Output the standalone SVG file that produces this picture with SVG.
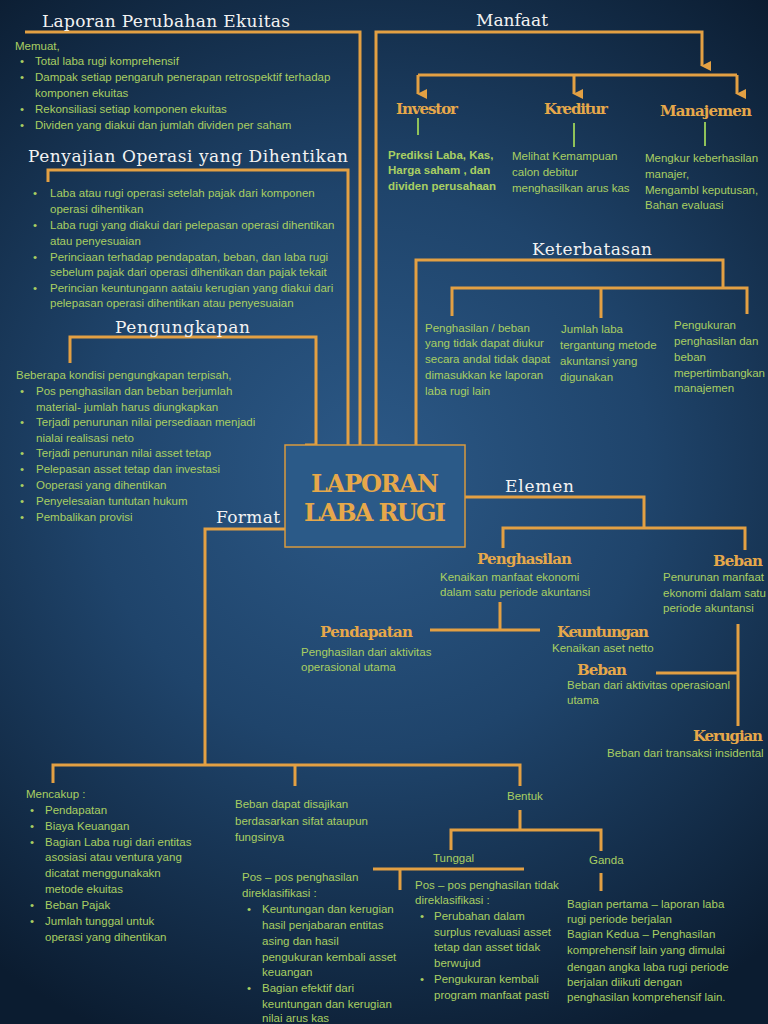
<svg xmlns="http://www.w3.org/2000/svg" width="768" height="1024" viewBox="0 0 768 1024">
<defs>
<radialGradient id="bg" cx="370" cy="470" r="620" gradientUnits="userSpaceOnUse">
<stop offset="0" stop-color="#2c5987"/>
<stop offset="0.45" stop-color="#1f446b"/>
<stop offset="1" stop-color="#0b1c30"/>
</radialGradient>
<marker id="arr" viewBox="0 0 10 10" refX="5" refY="9" markerWidth="10" markerHeight="10" markerUnits="userSpaceOnUse" orient="auto-start-reverse">
<path d="M0,0 L10,0 L5,10 Z" fill="#e3a043"/>
</marker>
<style>
.ln{fill:none;stroke:#e3a043;stroke-width:3}
.gl{fill:none;stroke:#8fc25a;stroke-width:2}
.ttl{font-family:"DejaVu Serif",serif;font-size:17px;fill:#f2f2f2}
.lbl{font-family:"DejaVu Serif",serif;font-size:15px;font-weight:bold;fill:#e6a84a}
.t{font-family:"Liberation Sans",Arial,sans-serif;font-size:11.5px;fill:#a9cf62}
.tb{font-family:"Liberation Sans",Arial,sans-serif;font-size:11.5px;fill:#a9cf62;font-weight:bold}
.big{font-family:"DejaVu Serif",serif;font-size:24px;font-weight:bold;fill:#e6a84a}
</style>
</defs>
<rect width="768" height="1024" fill="url(#bg)"/>

<g id="connectors">
<polyline class="ln" points="25,32 360,32 360,445"/>
<polyline class="ln" points="48,182 48,170 348,170 348,445"/>
<polyline class="ln" points="70,363 70,337 316,337 316,445 305,445"/>
<polyline class="ln" points="376,445 376,32 702,32 702,66" marker-end="url(#arr)"/>
<polyline class="ln" points="418,75 737,75"/>
<line class="ln" x1="418" y1="75" x2="418" y2="94" marker-end="url(#arr)"/>
<line class="ln" x1="574" y1="75" x2="574" y2="94" marker-end="url(#arr)"/>
<line class="ln" x1="737" y1="75" x2="737" y2="94" marker-end="url(#arr)"/>
<line class="gl" x1="418" y1="118" x2="418" y2="135"/>
<line class="gl" x1="574" y1="123" x2="574" y2="147"/>
<line class="gl" x1="705" y1="122" x2="705" y2="146"/>
<polyline class="ln" points="416,445 416,260 723,260 723,288"/>
<polyline class="ln" points="452,316 452,288 747,288 747,314"/>
<line class="ln" x1="601" y1="288" x2="601" y2="318"/>
<polyline class="ln" points="465,497 644,497 644,528"/>
<polyline class="ln" points="503,548 503,528 745,528 745,550"/>
<line class="ln" x1="500" y1="602" x2="500" y2="630"/>
<line class="ln" x1="430" y1="630" x2="540" y2="630"/>
<line class="ln" x1="738" y1="624" x2="738" y2="726"/>
<line class="ln" x1="656" y1="673" x2="738" y2="673"/>
<polyline class="ln" points="285,529 205,529 205,765"/>
<polyline class="ln" points="53,783 53,765 520,765 520,786"/>
<line class="ln" x1="295" y1="765" x2="295" y2="786"/>
<line class="ln" x1="520" y1="810" x2="520" y2="830"/>
<polyline class="ln" points="451,850 451,830 601,830 601,851"/>
<line class="ln" x1="601" y1="873" x2="601" y2="891"/>
<line class="ln" x1="373" y1="869" x2="524" y2="869"/>
<line class="ln" x1="400" y1="869" x2="400" y2="890"/>
</g>

<g id="center">
<rect x="285" y="445" width="180" height="102" fill="#2b5a88" stroke="#d99a3e" stroke-width="1.5"/>
<text class="big" x="375" y="492" text-anchor="middle" textLength="128">LAPORAN</text>
<text class="big" x="375" y="521" text-anchor="middle" textLength="142">LABA RUGI</text>
</g>

<g id="ekuitas">
<text class="ttl" x="42" y="27" textLength="248">Laporan Perubahan Ekuitas</text>
<text class="t" x="15" y="50">Memuat,</text>
<text class="t" x="20" y="65">•</text><text class="t" x="35" y="65">Total laba rugi komprehensif</text>
<text class="t" x="20" y="81">•</text><text class="t" x="35" y="81">Dampak setiap pengaruh penerapan retrospektif terhadap</text>
<text class="t" x="35" y="97">komponen ekuitas</text>
<text class="t" x="20" y="113">•</text><text class="t" x="35" y="113">Rekonsiliasi setiap komponen ekuitas</text>
<text class="t" x="20" y="129">•</text><text class="t" x="35" y="129">Dividen yang diakui dan jumlah dividen per saham</text>
</g>

<g id="penyajian">
<text class="ttl" x="28" y="162" textLength="320">Penyajian Operasi yang Dihentikan</text>
<text class="t" x="33" y="197">•</text><text class="t" x="50" y="197">Laba atau rugi operasi setelah pajak dari komponen</text>
<text class="t" x="50" y="213">operasi dihentikan</text>
<text class="t" x="33" y="229">•</text><text class="t" x="50" y="229">Laba rugi yang diakui dari pelepasan operasi dihentikan</text>
<text class="t" x="50" y="245">atau penyesuaian</text>
<text class="t" x="33" y="261">•</text><text class="t" x="50" y="261">Perinciaan terhadap pendapatan, beban, dan laba rugi</text>
<text class="t" x="50" y="276">sebelum pajak dari operasi dihentikan dan pajak tekait</text>
<text class="t" x="33" y="292">•</text><text class="t" x="50" y="292">Perincian keuntungann aataiu kerugian yang diakui dari</text>
<text class="t" x="50" y="307">pelepasan operasi dihentikan atau penyesuaian</text>
</g>

<g id="pengungkapan">
<text class="ttl" x="115" y="333" textLength="135">Pengungkapan</text>
<text class="t" x="16" y="379">Beberapa kondisi pengungkapan terpisah,</text>
<text class="t" x="20" y="395">•</text><text class="t" x="36" y="395">Pos penghasilan dan beban berjumlah</text>
<text class="t" x="36" y="411">material- jumlah harus diungkapkan</text>
<text class="t" x="20" y="426">•</text><text class="t" x="36" y="426">Terjadi penurunan nilai persediaan menjadi</text>
<text class="t" x="36" y="442">nialai realisasi neto</text>
<text class="t" x="20" y="457">•</text><text class="t" x="36" y="457">Terjadi penurunan nilai asset tetap</text>
<text class="t" x="20" y="473">•</text><text class="t" x="36" y="473">Pelepasan asset tetap dan investasi</text>
<text class="t" x="20" y="489">•</text><text class="t" x="36" y="489">Ooperasi yang dihentikan</text>
<text class="t" x="20" y="505">•</text><text class="t" x="36" y="505">Penyelesaian tuntutan hukum</text>
<text class="t" x="20" y="521">•</text><text class="t" x="36" y="521">Pembalikan provisi</text>
</g>

<g id="manfaat">
<text class="ttl" x="476" y="26" textLength="72">Manfaat</text>
</g>
<g id="investor">
<text class="lbl" x="396" y="114" textLength="62">Investor</text>
<text class="tb" x="388" y="159">Prediksi Laba, Kas,</text>
<text class="tb" x="388" y="174">Harga saham , dan</text>
<text class="tb" x="388" y="190">dividen perusahaan</text>
</g>
<g id="kreditur">
<text class="lbl" x="544" y="114" textLength="64">Kreditur</text>
<text class="t" x="512" y="160">Melihat Kemampuan</text>
<text class="t" x="512" y="176">calon debitur</text>
<text class="t" x="512" y="192">menghasilkan arus kas</text>
</g>
<g id="manajemen">
<text class="lbl" x="660" y="116" textLength="92">Manajemen</text>
<text class="t" x="645" y="162">Mengkur keberhasilan</text>
<text class="t" x="645" y="178">manajer,</text>
<text class="t" x="645" y="194">Mengambl keputusan,</text>
<text class="t" x="645" y="209">Bahan evaluasi</text>
</g>

<g id="keterbatasan">
<text class="ttl" x="532" y="255" textLength="120">Keterbatasan</text>
<text class="t" x="425" y="332">Penghasilan / beban</text>
<text class="t" x="425" y="347">yang tidak dapat diukur</text>
<text class="t" x="425" y="363">secara andal tidak dapat</text>
<text class="t" x="425" y="379">dimasukkan ke laporan</text>
<text class="t" x="425" y="395">laba rugi lain</text>
<text class="t" x="561" y="333">Jumlah laba</text>
<text class="t" x="560" y="349">tergantung metode</text>
<text class="t" x="560" y="365">akuntansi yang</text>
<text class="t" x="560" y="381">digunakan</text>
<text class="t" x="674" y="329">Pengukuran</text>
<text class="t" x="674" y="345">penghasilan dan</text>
<text class="t" x="674" y="361">beban</text>
<text class="t" x="674" y="377" textLength="91">mepertimbangkan</text>
<text class="t" x="674" y="392">manajemen</text>
</g>

<g id="elemen">
<text class="ttl" x="505" y="492" textLength="69">Elemen</text>
</g>
<g id="penghasilan">
<text class="lbl" x="477" y="564" textLength="95">Penghasilan</text>
<text class="t" x="440" y="581">Kenaikan manfaat ekonomi</text>
<text class="t" x="440" y="596">dalam satu periode akuntansi</text>
</g>
<g id="beban">
<text class="lbl" x="713" y="566" textLength="50">Beban</text>
<text class="t" x="663" y="581">Penurunan manfaat</text>
<text class="t" x="663" y="597">ekonomi dalam satu</text>
<text class="t" x="663" y="612">periode akuntansi</text>
</g>
<g id="pendapatan">
<text class="lbl" x="320" y="637" textLength="93">Pendapatan</text>
<text class="t" x="301" y="656">Penghasilan dari aktivitas</text>
<text class="t" x="301" y="671">operasional utama</text>
</g>
<g id="keuntungan">
<text class="lbl" x="557" y="637" textLength="92">Keuntungan</text>
<text class="t" x="552" y="652">Kenaikan aset netto</text>
</g>
<g id="beban2">
<text class="lbl" x="577" y="675" textLength="50">Beban</text>
<text class="t" x="567" y="689">Beban dari aktivitas operasioanl</text>
<text class="t" x="567" y="704">utama</text>
</g>
<g id="kerugian">
<text class="lbl" x="693" y="741" textLength="70">Kerugian</text>
<text class="t" x="607" y="757">Beban dari transaksi insidental</text>
</g>

<g id="format">
<text class="ttl" x="216" y="523" textLength="64">Format</text>
</g>
<g id="mencakup">
<text class="t" x="26" y="798">Mencakup :</text>
<text class="t" x="30" y="814">•</text><text class="t" x="45" y="814">Pendapatan</text>
<text class="t" x="30" y="830">•</text><text class="t" x="45" y="830">Biaya Keuangan</text>
<text class="t" x="30" y="846">•</text><text class="t" x="45" y="846">Bagian Laba rugi dari entitas</text>
<text class="t" x="45" y="861">asosiasi atau ventura yang</text>
<text class="t" x="45" y="877">dicatat menggunakakn</text>
<text class="t" x="45" y="893">metode ekuitas</text>
<text class="t" x="30" y="909">•</text><text class="t" x="45" y="909">Beban Pajak</text>
<text class="t" x="30" y="925">•</text><text class="t" x="45" y="925">Jumlah tunggal untuk</text>
<text class="t" x="45" y="941">operasi yang dihentikan</text>
</g>
<g id="sifat">
<text class="t" x="235" y="808">Beban dapat disajikan</text>
<text class="t" x="235" y="825">berdasarkan sifat ataupun</text>
<text class="t" x="235" y="841">fungsinya</text>
</g>
<g id="bentuk">
<text class="t" x="507" y="800">Bentuk</text>
</g>
<g id="tunggal">
<text class="t" x="433" y="862">Tunggal</text>
<text class="t" x="415" y="889">Pos – pos penghasilan tidak</text>
<text class="t" x="415" y="904">direklasifikasi :</text>
<text class="t" x="420" y="920">•</text><text class="t" x="434" y="920">Perubahan dalam</text>
<text class="t" x="434" y="936">surplus revaluasi asset</text>
<text class="t" x="434" y="951">tetap dan asset tidak</text>
<text class="t" x="434" y="967">berwujud</text>
<text class="t" x="420" y="983">•</text><text class="t" x="434" y="983">Pengukuran kembali</text>
<text class="t" x="434" y="999">program manfaat pasti</text>
</g>
<g id="reklasifikasi">
<text class="t" x="242" y="881">Pos – pos penghasilan</text>
<text class="t" x="242" y="897">direklasifikasi :</text>
<text class="t" x="247" y="913">•</text><text class="t" x="262" y="913">Keuntungan dan kerugian</text>
<text class="t" x="262" y="929">hasil penjabaran entitas</text>
<text class="t" x="262" y="945">asing dan hasil</text>
<text class="t" x="262" y="961">pengukuran kembali asset</text>
<text class="t" x="262" y="976">keuangan</text>
<text class="t" x="247" y="992">•</text><text class="t" x="262" y="992">Bagian efektif dari</text>
<text class="t" x="262" y="1008">keuntungan dan kerugian</text>
<text class="t" x="262" y="1022">nilai arus kas</text>
</g>
<g id="ganda">
<text class="t" x="589" y="864">Ganda</text>
<text class="t" x="567" y="908">Bagian pertama – laporan laba</text>
<text class="t" x="567" y="923">rugi periode berjalan</text>
<text class="t" x="567" y="938">Bagian Kedua – Penghasilan</text>
<text class="t" x="567" y="954">komprehensif lain yang dimulai</text>
<text class="t" x="567" y="971">dengan angka laba rugi periode</text>
<text class="t" x="567" y="986">berjalan diikuti dengan</text>
<text class="t" x="567" y="1001">penghasilan komprehensif lain.</text>
</g>
</svg>
